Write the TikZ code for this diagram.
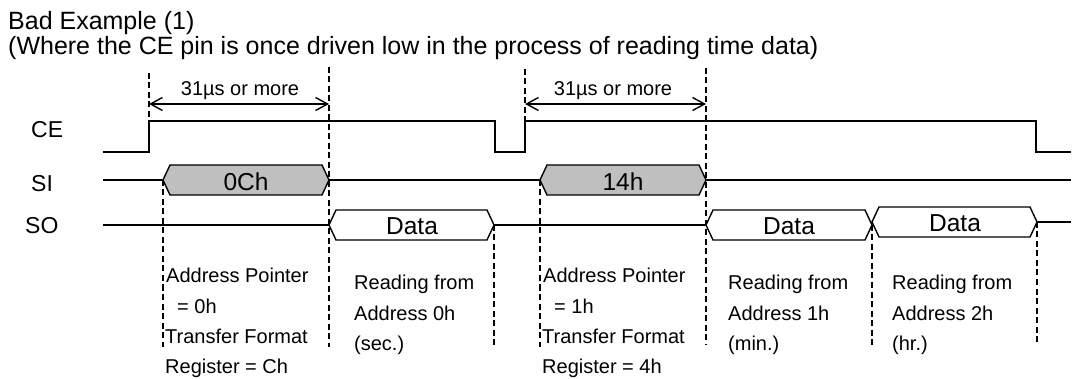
\documentclass[tikz,border=0pt]{standalone}
\usepackage{fontspec}
\setmainfont{Liberation Sans}
\usetikzlibrary{arrows.meta}

\begin{document}
\begin{tikzpicture}[x = 1pt, y = -1pt]
        \tikzstyle{wave} = [line width = 1.4pt]
        \tikzstyle{guide} = [line width = 1.1pt, dash pattern = on 6pt off 3.5pt]
        \tikzstyle{span} = [line width = 1.4pt, {Straight Barb[length = 12pt, width = 13pt]}-{Straight Barb[length = 12pt, width = 13pt]}]
        \tikzstyle{head} = [inner sep = 0pt, anchor = base west, font = \fontsize{25}{28}\selectfont]
        \tikzstyle{pin} = [inner sep = 0pt, anchor = base west, font = \fontsize{23}{27}\selectfont]
        \tikzstyle{val} = [inner sep = 0pt, anchor = base, font = \fontsize{24.5}{28}\selectfont]
        \tikzstyle{note} = [inner sep = 0pt, anchor = base west, font = \fontsize{20}{24}\selectfont]
        \useasboundingbox (0, 0) rectangle (1073, 379);
        \node[head] (T-1) at (8, 30) {Bad Example (1)};
        \node[head] (T-2) at (8, 55) {(Where the CE pin is once driven low in the process of reading time data)};
        \node[pin] (CE) at (31, 138) {CE};
        \node[pin] (SI) at (31, 192) {SI};
        \node[pin] (SO) at (25, 234) {SO};
        % guides
        \draw[guide] (149, 73) -- (149, 121);
        \draw[guide] (329, 67) -- (329, 347);
        \draw[guide] (525, 69) -- (525, 121);
        \draw[guide] (706, 68) -- (706, 345);
        \draw[guide] (163, 180) -- (163, 347);
        \draw[guide] (540, 180) -- (540, 347);
        \draw[guide] (494, 225) -- (494, 347);
        \draw[guide] (872, 225) -- (872, 345);
        \draw[guide] (1037, 222) -- (1037, 345);
        % 31us spans
        \draw[span] (149, 104) -- (329, 104);
        \node[note, anchor = base] (W-1) at (240, 96) {31µs or more};
        \draw[span] (525, 104) -- (706, 104);
        \node[note, anchor = base] (W-2) at (613, 96) {31µs or more};
        % CE
        \draw[wave] (103, 152) -- (149, 152) -- (149, 121) -- (495, 121) -- (495, 152) -- (525, 152) -- (525, 121) -- (1036, 121) -- (1036, 152) -- (1071, 152);
        % SI
        \draw[wave] (103, 180) -- (163, 180);
        \draw[wave, fill = gray!50] (163, 180) -- (170, 165) -- (322, 165) -- (329, 180) -- (322, 195) -- (170, 195) -- cycle;
        \draw[wave] (329, 180) -- (540, 180);
        \draw[wave, fill = gray!50] (540, 180) -- (547, 165) -- (699, 165) -- (706, 180) -- (699, 195) -- (547, 195) -- cycle;
        \draw[wave] (706, 180) -- (1071, 180);
        \node[val] (SI-1) at (246, 191) {0Ch};
        \node[val] (SI-2) at (623, 191) {14h};
        % SO
        \draw[wave] (103, 225) -- (329, 225);
        \draw[wave] (329, 225) -- (336, 210) -- (487, 210) -- (494, 225) -- (487, 240) -- (336, 240) -- cycle;
        \draw[wave] (494, 225) -- (706, 225);
        \draw[wave] (706, 225) -- (713, 210) -- (865, 210) -- (872, 225) -- (865, 240) -- (713, 240) -- cycle;
        \draw[wave] (872, 222) -- (879, 207) -- (1030, 207) -- (1037, 222) -- (1030, 237) -- (879, 237) -- cycle;
        \draw[wave] (1037, 222) -- (1071, 222);
        \node[val] (SO-1) at (412, 235) {Data};
        \node[val] (SO-2) at (789, 235) {Data};
        \node[val] (SO-3) at (955, 232) {Data};
        % notes
        \node[note] (A-1) at (166, 283) {Address Pointer};
        \node[note] (A-2) at (177, 313) {= 0h};
        \node[note] (A-3) at (165, 343) {Transfer Format};
        \node[note] (A-4) at (165, 373) {Register = Ch};
        \node[note] (B-1) at (354, 290) {Reading from};
        \node[note] (B-2) at (354, 320) {Address 0h};
        \node[note] (B-3) at (354, 350) {(sec.)};
        \node[note] (C-1) at (543, 283) {Address Pointer};
        \node[note] (C-2) at (554, 313) {= 1h};
        \node[note] (C-3) at (542, 343) {Transfer Format};
        \node[note] (C-4) at (542, 373) {Register = 4h};
        \node[note] (D-1) at (728, 290) {Reading from};
        \node[note] (D-2) at (728, 320) {Address 1h};
        \node[note] (D-3) at (728, 350) {(min.)};
        \node[note] (E-1) at (892, 290) {Reading from};
        \node[note] (E-2) at (892, 320) {Address 2h};
        \node[note] (E-3) at (892, 350) {(hr.)};
\end{tikzpicture}
\end{document}
